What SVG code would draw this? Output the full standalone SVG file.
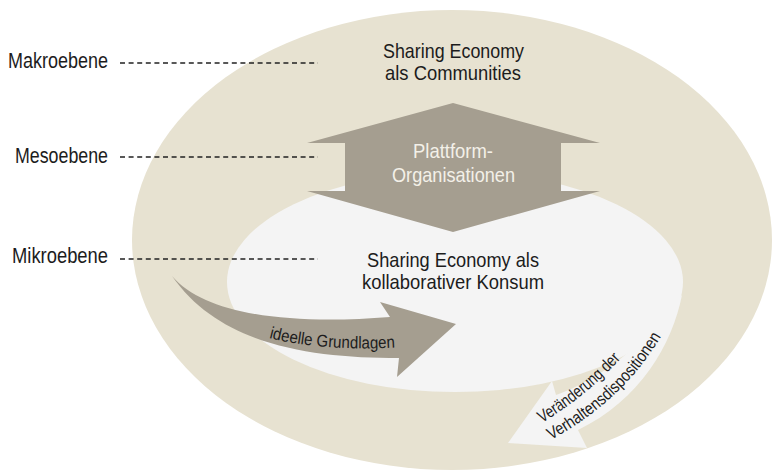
<svg xmlns="http://www.w3.org/2000/svg" width="772" height="473" viewBox="0 0 772 473">
<style>
text{font-family:'Liberation Sans','Arimo',sans-serif;fill:#1c1c1c}
.mid{font-size:21px;text-anchor:middle}
.lbl{font-size:22px;text-anchor:end}
.small{font-size:17px}
.dash{stroke:#222;stroke-width:1.3;stroke-dasharray:5 3.6;fill:none}
</style>
<defs>
<path id="p1" d="M269,338 C300,346 350,351 402,347"/>
<path id="p2" d="M542,423 Q594,391 629,349"/>
<path id="p3" d="M551,440 Q634,394 671,318"/>
</defs>
<rect width="772" height="473" fill="#fff"/>
<g id="outer">
<ellipse cx="452" cy="240" rx="320" ry="230" fill="#e7e2d1"/>
<text class="mid" x="453.5" y="58" textLength="141" lengthAdjust="spacingAndGlyphs">Sharing Economy</text>
<text class="mid" x="453" y="80" textLength="136" lengthAdjust="spacingAndGlyphs">als Communities</text>
</g>
<g id="inner">
<ellipse cx="455" cy="282" rx="228" ry="110" fill="#f4f4f4"/>
<text class="mid" x="453" y="267" textLength="172" lengthAdjust="spacingAndGlyphs">Sharing Economy als</text>
<text class="mid" x="453" y="289" textLength="182" lengthAdjust="spacingAndGlyphs">kollaborativer Konsum</text>
</g>
<g id="plattform">
<polygon points="453,103 600,143 561,143 561,191 600,191 453,232 307,191 345,191 345,143 307,143" fill="#a59e90"/>
<text class="mid" x="453" y="158" textLength="80" lengthAdjust="spacingAndGlyphs" style="fill:#f3f0e8">Plattform-</text>
<text class="mid" x="453.5" y="182" textLength="123" lengthAdjust="spacingAndGlyphs" style="fill:#f3f0e8">Organisationen</text>
</g>
<g id="levels">
<text class="lbl" x="108" y="68" textLength="100" lengthAdjust="spacingAndGlyphs">Makroebene</text>
<text class="lbl" x="108" y="163" textLength="93" lengthAdjust="spacingAndGlyphs">Mesoebene</text>
<text class="lbl" x="108" y="263" textLength="96" lengthAdjust="spacingAndGlyphs">Mikroebene</text>
</g>
<g id="connectors">
<line class="dash" x1="120" y1="63" x2="318" y2="63"/>
<line class="dash" x1="120" y1="157" x2="318" y2="157"/>
<line class="dash" x1="120" y1="259" x2="318" y2="259"/>
</g>
<g id="arrow-ideell">
<path d="M172,276 C205,315 290,325 390,317 L380,302 L456,324 L397,377 L399,358 C310,358 220,345 172,276 Z" fill="#a59e90"/>
<text class="small"><textPath href="#p1" textLength="127" lengthAdjust="spacingAndGlyphs">ideelle Grundlagen</textPath></text>
</g>
<g id="arrow-veraenderung">
<path d="M682,295 C672,345 640,400 578,430 L587,448 L508,443 L552,381 L556,395 C585,385 615,365 633,348 Z" fill="#f4f4f4"/>
<text class="small"><textPath href="#p2" textLength="102" lengthAdjust="spacingAndGlyphs">Veränderung der</textPath></text>
<text class="small"><textPath href="#p3" textLength="153" lengthAdjust="spacingAndGlyphs">Verhaltensdispositionen</textPath></text>
</g>
</svg>
